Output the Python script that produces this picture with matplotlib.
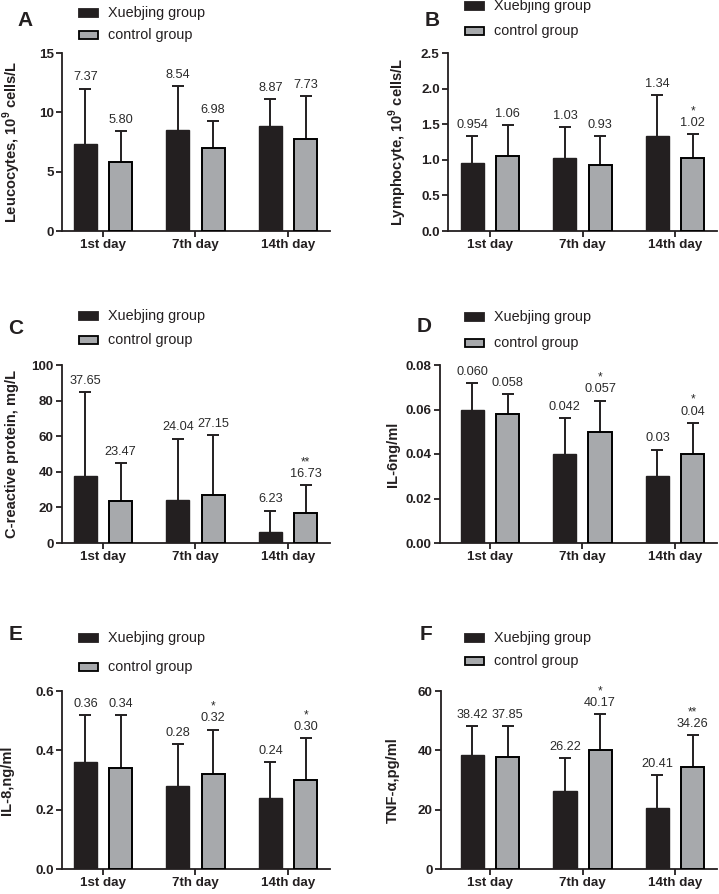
import matplotlib
matplotlib.use("Agg")
import matplotlib.pyplot as plt
import numpy as np
from matplotlib.patches import Rectangle
from matplotlib.ticker import FormatStrFormatter, MultipleLocator

plt.rcParams['font.family'] = ['Liberation Sans', 'DejaVu Sans']
plt.rcParams['mathtext.fontset'] = 'custom'
plt.rcParams['mathtext.rm'] = 'Liberation Sans:bold'
plt.rcParams['mathtext.bf'] = 'Liberation Sans:bold'

categories = ["1st day", "7th day", "14th day"]
groups = ["Xuebjing group", "control group"]

# Panel A - Leucocytes
a_xue = [7.37, 8.54, 8.87]
a_xue_sd = [4.63, 3.66, 2.23]
a_ctl = [5.80, 6.98, 7.73]
a_ctl_sd = [2.60, 2.27, 3.67]
a_xue_lbl = ["7.37", "8.54", "8.87"]
a_ctl_lbl = ["5.80", "6.98", "7.73"]
a_stars = ["", "", ""]

# Panel B - Lymphocyte
b_xue = [0.954, 1.03, 1.34]
b_xue_sd = [0.376, 0.43, 0.57]
b_ctl = [1.06, 0.93, 1.02]
b_ctl_sd = [0.43, 0.40, 0.34]
b_xue_lbl = ["0.954", "1.03", "1.34"]
b_ctl_lbl = ["1.06", "0.93", "1.02"]
b_stars = ["", "", "*"]

# Panel C - C-reactive protein
c_xue = [37.65, 24.04, 6.23]
c_xue_sd = [47.35, 34.66, 11.97]
c_ctl = [23.47, 27.15, 16.73]
c_ctl_sd = [21.33, 33.45, 15.77]
c_xue_lbl = ["37.65", "24.04", "6.23"]
c_ctl_lbl = ["23.47", "27.15", "16.73"]
c_stars = ["", "", "**"]

# Panel D - IL-6
d_xue = [0.060, 0.040, 0.030]
d_xue_sd = [0.012, 0.016, 0.012]
d_ctl = [0.058, 0.050, 0.040]
d_ctl_sd = [0.009, 0.014, 0.014]
d_xue_lbl = ["0.060", "0.042", "0.03"]
d_ctl_lbl = ["0.058", "0.057", "0.04"]
d_stars = ["", "*", "*"]

# Panel E - IL-8
e_xue = [0.36, 0.28, 0.24]
e_xue_sd = [0.16, 0.14, 0.12]
e_ctl = [0.34, 0.32, 0.30]
e_ctl_sd = [0.18, 0.15, 0.14]
e_xue_lbl = ["0.36", "0.28", "0.24"]
e_ctl_lbl = ["0.34", "0.32", "0.30"]
e_stars = ["", "*", "*"]

# Panel F - TNF-alpha
f_xue = [38.42, 26.22, 20.41]
f_xue_sd = [9.88, 11.08, 11.19]
f_ctl = [37.85, 40.17, 34.26]
f_ctl_sd = [10.35, 12.03, 10.94]
f_xue_lbl = ["38.42", "26.22", "20.41"]
f_ctl_lbl = ["37.85", "40.17", "34.26"]
f_stars = ["", "*", "**"]

W, H = 719, 894
fig = plt.figure(figsize=(W / 100, H / 100), dpi=100)

DARK = "#231f20"
GRAY = "#a7a9ac"
TXT = "#2a2a2a"


def px_axes(x0, x1, y0, y1):
    return fig.add_axes([x0 / W, 1 - y1 / H, (x1 - x0) / W, (y1 - y0) / H])


def up_errorbar(ax, xs, ys, sd):
    cont = ax.errorbar(xs, ys, yerr=[np.zeros(len(ys)), sd], fmt="none",
                       ecolor=DARK, elinewidth=1.4, capsize=4.3, capthick=1.4,
                       zorder=2)
    for cl in cont[1]:
        if np.allclose(cl.get_ydata(), ys):
            cl.set_visible(False)


def panel(box, xlim, ylim, ystep, yfmt, ylabel, xue, xue_sd, ctl, ctl_sd,
          xue_lbl, ctl_lbl, stars, letter, letter_xy, leg_x, leg_y1, leg_y2,
          ylab_dx):
    ax = px_axes(*box)
    x = np.arange(len(categories))
    w = 0.25
    off = 0.19
    ax.bar(x - off, xue, w, color=DARK, edgecolor=DARK, linewidth=1.0, zorder=3)
    ax.bar(x + off, ctl, w, color=GRAY, edgecolor="black", linewidth=1.4, zorder=3)
    up_errorbar(ax, x - off, xue, xue_sd)
    up_errorbar(ax, x + off, ctl, ctl_sd)
    for i in range(3):
        ax.annotate(xue_lbl[i], (x[i] - off, xue[i] + xue_sd[i]), xytext=(0, 8),
                    textcoords="offset points", ha="center", va="center",
                    fontsize=9.2, color=TXT)
        ax.annotate(ctl_lbl[i], (x[i] + off, ctl[i] + ctl_sd[i]), xytext=(0, 8),
                    textcoords="offset points", ha="center", va="center",
                    fontsize=9.2, color=TXT)
        if stars[i]:
            ax.annotate(stars[i], (x[i] + off, ctl[i] + ctl_sd[i]), xytext=(0, 16.5),
                        textcoords="offset points", ha="center", va="center",
                        fontsize=8.5, color=TXT)
    ax.set_xlim(*xlim)
    ax.set_ylim(*ylim)
    ax.yaxis.set_major_locator(MultipleLocator(ystep))
    ax.yaxis.set_major_formatter(FormatStrFormatter(yfmt))
    ax.set_xticks(x)
    ax.set_xticklabels(categories, fontweight="bold", fontsize=9.6)
    for lab in ax.get_yticklabels():
        lab.set_fontweight("bold")
        lab.set_fontsize(9.6)
    ax.spines["top"].set_visible(False)
    ax.spines["right"].set_visible(False)
    for s in ("left", "bottom"):
        ax.spines[s].set_linewidth(1.3)
        ax.spines[s].set_color(DARK)
    ax.tick_params(axis="both", direction="out", length=4, width=1.3, color=DARK,
                   pad=2, labelcolor=DARK)
    ax.set_ylabel(ylabel, fontweight="bold", fontsize=10.5, va="center", color=DARK)
    width_px = box[1] - box[0]
    ax.yaxis.set_label_coords(-ylab_dx / width_px, 0.5)
    # panel letter
    fig.text(letter_xy[0] / W, 1 - letter_xy[1] / H, letter, fontsize=15,
             fontweight="bold", ha="center", va="center", color=DARK)
    # legend
    for yy, col, lab in ((leg_y1, DARK, groups[0]), (leg_y2, GRAY, groups[1])):
        fig.add_artist(Rectangle((leg_x / W, 1 - (yy + 4) / H), 19 / W, 8 / H,
                                 transform=fig.transFigure, facecolor=col,
                                 edgecolor="black" if col == GRAY else DARK,
                                 linewidth=1.3))
        fig.text((leg_x + 29) / W, 1 - yy / H, lab, fontsize=10.4, ha="left",
                 va="center", color=DARK)
    return ax


panel((62, 330, 53, 231), (-0.443, 2.454), (0, 15), 5, "%d",
      r"Leucocytes, 10$^{9}$ cells/L", a_xue, a_xue_sd, a_ctl, a_ctl_sd,
      a_xue_lbl, a_ctl_lbl, a_stars, "A", (25, 21), 79, 13, 35, 50)
panel((448, 717, 53, 231), (-0.454, 2.454), (0, 2.5), 0.5, "%.1f",
      r"Lymphocyte, 10$^{9}$ cells/L", b_xue, b_xue_sd, b_ctl, b_ctl_sd,
      b_xue_lbl, b_ctl_lbl, b_stars, "B", (432, 20), 465, 6, 31, 50)
panel((62, 330, 365, 543), (-0.443, 2.454), (0, 100), 20, "%d",
      "C-reactive protein, mg/L", c_xue, c_xue_sd, c_ctl, c_ctl_sd,
      c_xue_lbl, c_ctl_lbl, c_stars, "C", (16, 328), 79, 316, 340, 50)
panel((440, 717, 365, 543), (-0.54, 2.454), (0, 0.08), 0.02, "%.2f",
      "IL-6ng/ml", d_xue, d_xue_sd, d_ctl, d_ctl_sd,
      d_xue_lbl, d_ctl_lbl, d_stars, "D", (424, 326), 465, 317, 343, 47)
panel((62, 330, 691, 869), (-0.443, 2.454), (0, 0.6), 0.2, "%.1f",
      "IL-8,ng/ml", e_xue, e_xue_sd, e_ctl, e_ctl_sd,
      e_xue_lbl, e_ctl_lbl, e_stars, "E", (16, 635), 79, 638, 667, 55)
panel((441, 717, 691, 869), (-0.53, 2.454), (0, 60), 20, "%d",
      "TNF-α,pg/ml", f_xue, f_xue_sd, f_ctl, f_ctl_sd,
      f_xue_lbl, f_ctl_lbl, f_stars, "F", (426, 635), 465, 638, 661, 48)

fig.savefig("out.png", dpi=100)
